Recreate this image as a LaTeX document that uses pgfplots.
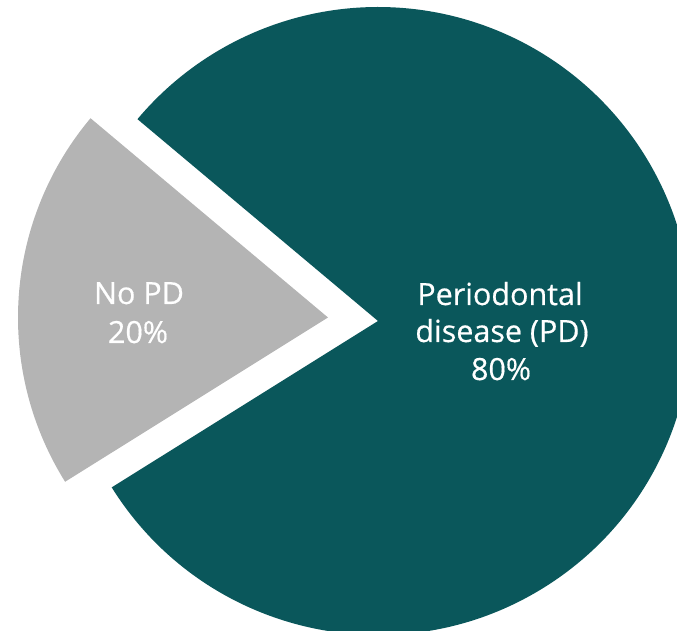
\documentclass[border=0pt]{standalone}
\usepackage{pgfplots}
\pgfplotsset{compat=1.18}
\usepackage{fontspec}
\setmainfont{Open Sans}
\newfontfamily\lblfont{Open Sans}[FakeBold=0.5]

\definecolor{pdteal}{RGB}{10,87,91}
\definecolor{nopdgray}{RGB}{180,180,180}

% shares (percent)
\def\valPD{80}
\def\valNoPD{20}

\begin{document}
\begin{tikzpicture}
\begin{axis}[
  width=677bp, height=631bp, scale only axis,
  xmin=0, xmax=677, ymin=0, ymax=631,
  hide axis, clip=true,
]
  % angles of the slices, starting at 140 degrees
  \pgfmathsetmacro{\aStart}{140}
  \pgfmathsetmacro{\aMid}{\aStart+3.6*\valNoPD}
  \pgfmathsetmacro{\aEnd}{\aMid+3.6*\valPD}
  % main slice
  \fill[pdteal] (axis cs:378,310) -- ++(\aMid:314bp)
     arc[start angle=\aMid, end angle=\aEnd, radius=314bp] -- cycle;
  % exploded slice
  \fill[nopdgray] (axis cs:328,313.5) -- ++(\aStart:310bp)
     arc[start angle=\aStart, end angle=\aMid, radius=310bp] -- cycle;

  \begin{scope}[every node/.style={text=white, inner sep=0pt, anchor=base,
      font=\lblfont\fontsize{30.5bp}{36bp}\selectfont}]
    \node at (axis cs:500,326) {Periodontal};
    \node at (axis cs:502,289) {disease (PD)};
    \node at (axis cs:501,251) {\valPD\%};
    \node at (axis cs:139,327) {No PD};
    \node at (axis cs:138,288) {\valNoPD\%};
  \end{scope}
\end{axis}
\pgfresetboundingbox
\useasboundingbox (current axis.south west) rectangle (current axis.north east);
\end{tikzpicture}
\end{document}
